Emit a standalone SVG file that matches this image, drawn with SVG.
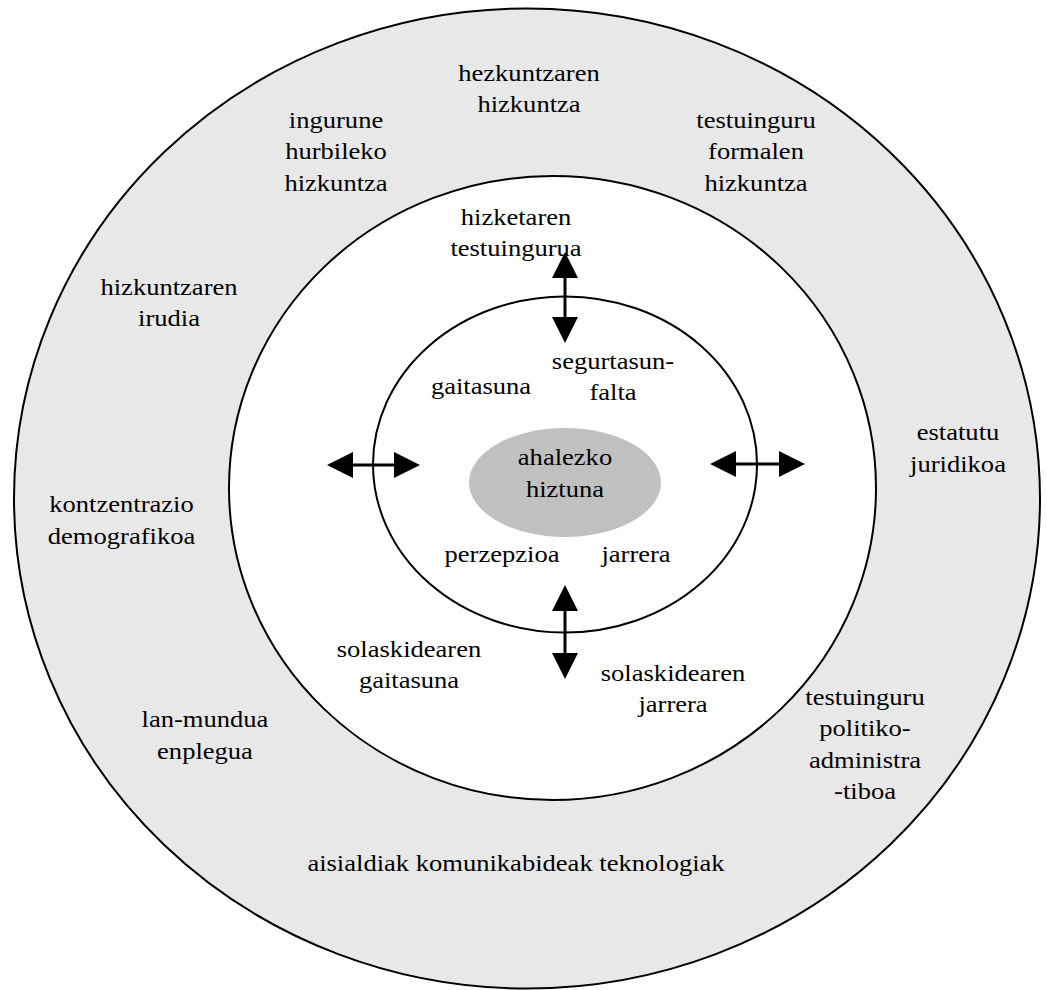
<svg xmlns="http://www.w3.org/2000/svg" width="1047" height="990" viewBox="0 0 1047 990">
<style>
.ring{stroke:#000;stroke-width:2}
.lbl{font-family:"Liberation Serif","Times New Roman",serif;font-size:23px;fill:#000;text-anchor:middle}
.shaft{stroke:#000;stroke-width:3;fill:none}
.head{fill:#000}
</style>
<rect x="0" y="0" width="1047" height="990" fill="#fff"/>
<g id="outer-ring"><ellipse class="ring" cx="527" cy="498.5" rx="513" ry="490" fill="#e8e8e8"/></g>
<g id="middle-ring"><ellipse class="ring" cx="552.5" cy="488" rx="323.5" ry="312" fill="#fff"/></g>
<g id="inner-ring"><ellipse class="ring" cx="565" cy="464.5" rx="192" ry="168" fill="#fff"/></g>
<g id="center"><ellipse cx="565" cy="482.5" rx="96" ry="54.5" fill="#c0c0c0"/>
<text class="lbl" transform="translate(565,465) scale(1.155,1)"><tspan x="0" y="0">ahalezko</tspan><tspan x="0" dy="32">hiztuna</tspan></text></g>

<g id="connectors">
<line class="shaft" x1="565" y1="270" x2="565" y2="325"/>
<polygon class="head" points="565,252 578,278 552,278"/>
<polygon class="head" points="565,343 578,317 552,317"/>
<line class="shaft" x1="565" y1="603" x2="565" y2="661"/>
<polygon class="head" points="565,585 578,611 552,611"/>
<polygon class="head" points="565,679 578,653 552,653"/>
<line class="shaft" x1="345" y1="465" x2="402" y2="465"/>
<polygon class="head" points="327,465 353,452 353,478"/>
<polygon class="head" points="420,465 394,452 394,478"/>
<line class="shaft" x1="728" y1="464" x2="787" y2="464"/>
<polygon class="head" points="710,464 736,451 736,477"/>
<polygon class="head" points="805,464 779,451 779,477"/>
</g>

<g id="hezkuntzaren"><text class="lbl" transform="translate(529,81) scale(1.155,1)"><tspan x="0" y="0">hezkuntzaren</tspan><tspan x="0" dy="31.5">hizkuntza</tspan></text></g>
<g id="ingurune"><text class="lbl" transform="translate(336,128) scale(1.155,1)"><tspan x="0" y="0">ingurune</tspan><tspan x="0" dy="31.5">hurbileko</tspan><tspan x="0" dy="31.5">hizkuntza</tspan></text></g>
<g id="testuinguru-formalen"><text class="lbl" transform="translate(756,128) scale(1.155,1)"><tspan x="0" y="0">testuinguru</tspan><tspan x="0" dy="31.5">formalen</tspan><tspan x="0" dy="31.5">hizkuntza</tspan></text></g>
<g id="hizketaren"><text class="lbl" transform="translate(516,225) scale(1.155,1)"><tspan x="0" y="0">hizketaren</tspan><tspan x="0" dy="31.5">testuingurua</tspan></text></g>
<g id="hizkuntzaren-irudia"><text class="lbl" transform="translate(169,295) scale(1.155,1)"><tspan x="0" y="0">hizkuntzaren</tspan><tspan x="0" dy="31.5">irudia</tspan></text></g>
<g id="segurtasun"><text class="lbl" transform="translate(613,369) scale(1.155,1)"><tspan x="0" y="0">segurtasun-</tspan><tspan x="0" dy="31.5">falta</tspan></text></g>
<g id="gaitasuna"><text class="lbl" transform="translate(481,394) scale(1.155,1)">gaitasuna</text></g>
<g id="estatutu"><text class="lbl" transform="translate(958,440) scale(1.155,1)"><tspan x="0" y="0">estatutu</tspan><tspan x="0" dy="32">juridikoa</tspan></text></g>
<g id="kontzentrazio"><text class="lbl" transform="translate(121.5,512) scale(1.155,1)"><tspan x="0" y="0">kontzentrazio</tspan><tspan x="0" dy="32">demografikoa</tspan></text></g>
<g id="perzepzioa"><text class="lbl" transform="translate(502,562) scale(1.155,1)">perzepzioa</text></g>
<g id="jarrera"><text class="lbl" transform="translate(636,562) scale(1.155,1)">jarrera</text></g>
<g id="solaskidearen-gaitasuna"><text class="lbl" transform="translate(409,657) scale(1.155,1)"><tspan x="0" y="0">solaskidearen</tspan><tspan x="0" dy="31.5">gaitasuna</tspan></text></g>
<g id="solaskidearen-jarrera"><text class="lbl" transform="translate(673,681) scale(1.155,1)"><tspan x="0" y="0">solaskidearen</tspan><tspan x="0" dy="31.5">jarrera</tspan></text></g>
<g id="testuinguru-politiko"><text class="lbl" transform="translate(865,705) scale(1.155,1)"><tspan x="0" y="0">testuinguru</tspan><tspan x="0" dy="31.5">politiko-</tspan><tspan x="0" dy="31.5">administra</tspan><tspan x="0" dy="31.5">-tiboa</tspan></text></g>
<g id="lan-mundua"><text class="lbl" transform="translate(205,727) scale(1.155,1)"><tspan x="0" y="0">lan-mundua</tspan><tspan x="0" dy="32">enplegua</tspan></text></g>
<g id="aisialdiak"><text class="lbl" transform="translate(516,871) scale(1.155,1)">aisialdiak komunikabideak teknologiak</text></g>
</svg>
